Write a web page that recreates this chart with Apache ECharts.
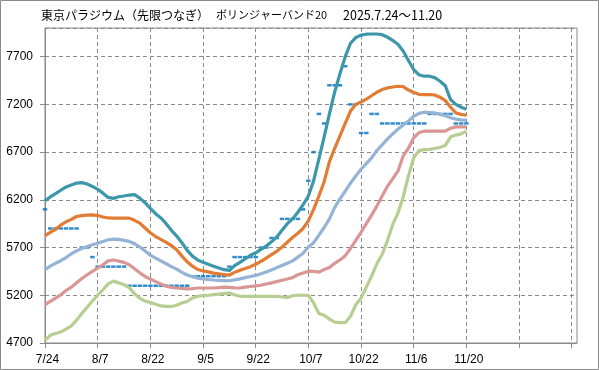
<!DOCTYPE html>
<html><head><meta charset="utf-8">
<script src="https://cdn.jsdelivr.net/npm/echarts@6/dist/echarts.min.js"></script>
<style>html,body{margin:0;padding:0;background:#fff}#c{width:599px;height:370px}</style>
</head><body><div id="c"></div>
<script>
const titleMain = '東京パラジウム（先限つなぎ）';
const titleSub = 'ボリンジャーバンド20';
const titlePeriod = '2025.7.24～11.20';
const dates = ['7/24','7/25','7/28','7/29','7/30','7/31','8/1','8/4','8/5','8/6',
 '8/7','8/8','8/12','8/13','8/14','8/15','8/18','8/19','8/20','8/21',
 '8/22','8/25','8/26','8/27','8/28','8/29','9/1','9/2','9/3','9/4',
 '9/5','9/8','9/9','9/10','9/11','9/12','9/16','9/17','9/18','9/19',
 '9/22','9/24','9/25','9/26','9/29','9/30','10/1','10/2','10/3','10/6',
 '10/7','10/8','10/9','10/10','10/14','10/15','10/16','10/17','10/20','10/21',
 '10/22','10/23','10/24','10/27','10/28','10/29','10/30','10/31','11/4','11/5',
 '11/6','11/7','11/10','11/11','11/12','11/13','11/14','11/17','11/18','11/19','11/20'];
const padCount = 21;
const yTicks = {min: 4700, max: 8000, step: 500};
const price = [6100,5900,5900,5900,5900,5900,5900,5700,5700,5600,
 5500,5500,5500,5500,5500,5500,5300,5300,5300,5300,
 5300,5300,5300,5300,5300,5300,5300,5300,5400,5400,
 5400,5400,5400,5400,5400,5500,5600,5600,5600,5600,
 5600,5700,5700,5800,5800,6000,6000,6000,6000,6100,
 6400,6700,7100,7000,7400,7400,7400,7600,7200,7200,
 6900,6900,7100,7100,7000,7000,7000,7000,7000,7000,
 7000,7000,7000,7100,7100,7100,7100,7100,7000,7000,7000];
const upper2 = [6190,6230,6265,6300,6335,6355,6375,6380,6365,6340,
 6310,6270,6225,6215,6232,6240,6250,6255,6218,6170,
 6110,6055,6010,5950,5880,5820,5750,5670,5610,5570,
 5545,5525,5505,5485,5468,5460,5510,5545,5580,5620,
 5645,5680,5715,5760,5810,5880,5950,6000,6070,6148,
 6240,6400,6630,6860,7100,7330,7520,7700,7840,7900,
 7925,7935,7937,7937,7930,7905,7870,7830,7760,7660,
 7565,7510,7495,7495,7480,7442,7395,7250,7200,7170,7150];
const upper1 = [5826,5860,5890,5935,5970,5995,6025,6035,6040,6043,
 6035,6020,6010,6008,6008,6008,6008,5985,5956,5905,
 5855,5815,5785,5755,5720,5677,5610,5550,5505,5470,
 5455,5445,5432,5425,5418,5412,5440,5462,5480,5500,
 5525,5555,5590,5625,5660,5705,5755,5805,5850,5900,
 5980,6100,6240,6390,6600,6740,6870,7000,7130,7200,
 7225,7255,7290,7327,7355,7372,7382,7390,7385,7350,
 7325,7305,7302,7302,7298,7275,7240,7170,7110,7095,7086];
const middle = [5467,5505,5535,5562,5595,5635,5665,5690,5710,5730,
 5745,5764,5782,5789,5785,5775,5764,5740,5705,5665,
 5620,5590,5560,5530,5500,5474,5440,5412,5395,5380,
 5372,5365,5360,5357,5354,5352,5362,5372,5385,5397,
 5408,5425,5443,5465,5490,5512,5535,5560,5600,5640,
 5705,5750,5830,5910,6000,6120,6210,6290,6375,6450,
 6520,6580,6640,6716,6775,6835,6890,6940,6985,7025,
 7075,7105,7118,7115,7110,7095,7080,7060,7045,7038,7034];
const lower1 = [5101,5135,5170,5205,5250,5285,5330,5375,5415,5450,
 5485,5520,5560,5570,5558,5545,5520,5478,5435,5397,
 5370,5343,5318,5295,5283,5276,5272,5268,5270,5276,
 5276,5276,5276,5280,5285,5282,5278,5276,5285,5292,
 5298,5305,5318,5330,5343,5357,5370,5385,5415,5433,
 5452,5450,5443,5470,5490,5535,5570,5615,5690,5775,
 5860,5950,6040,6134,6240,6340,6420,6500,6660,6740,
 6850,6905,6919,6919,6919,6919,6919,6950,6964,6964,6964];
const lower2 = [4727,4780,4800,4815,4845,4880,4940,5010,5075,5140,
 5200,5258,5320,5348,5330,5310,5280,5215,5170,5138,
 5125,5105,5088,5083,5083,5095,5120,5135,5172,5190,
 5197,5200,5206,5212,5218,5223,5205,5190,5188,5188,
 5188,5188,5188,5188,5190,5182,5177,5195,5202,5200,
 5198,5120,5010,4990,4950,4918,4913,4915,4980,5100,
 5170,5285,5400,5530,5627,5770,5940,6060,6230,6450,
 6640,6715,6726,6728,6738,6750,6770,6860,6878,6891,6919];

const categories = dates.slice();
for (let k = 0; k < padCount; k++) categories.push('_' + k);

const chart = echarts.init(document.getElementById('c'), null, {renderer: 'canvas'});
const gridColor = '#8a8a8a';
const numFont = 'Liberation Sans, Arial, sans-serif';
function band(name, data, color) {
  return {name, type: 'line', data, showSymbol: false, symbol: 'none', z: 3,
    lineStyle: {color, width: 3.2, join: 'round'}, itemStyle: {color}, animation: false};
}
chart.setOption({
  animation: false,
  backgroundColor: '#fff',
  grid: {left: 45, right: 22, top: 28, bottom: 27, show: true, borderColor: gridColor, borderWidth: 1},
  graphic: [
    {type: 'rect', shape: {x: 0.5, y: 0.5, width: 598, height: 369}, style: {fill: null, stroke: '#8a8a8a', lineWidth: 1}, z: -1},
    {type: 'text', left: 41, top: 9, style: {text: titleMain, fill: '#000', font: '12px "Noto Sans CJK JP"'}},
    {type: 'text', left: 216, top: 9, style: {text: titleSub, fill: '#000', font: '11px "Noto Sans CJK JP"'}},
    {type: 'text', left: 343, top: 9, style: {text: titlePeriod, fill: '#000', font: '12.5px "Noto Sans CJK JP"'}}
  ],
  xAxis: {
    type: 'category', data: categories, boundaryGap: false,
    axisLine: {lineStyle: {color: gridColor, width: 1}},
    axisTick: {show: true, length: 5, interval: (i) => i % 10 === 0, lineStyle: {color: gridColor}},
    splitLine: {show: true, interval: (i) => i % 10 === 0, lineStyle: {color: gridColor, type: [4, 3], width: 1}},
    axisLabel: {interval: (i) => i % 10 === 0, margin: 11, color: '#000', fontSize: 12, fontFamily: numFont,
      padding: [0, 0, 0, 5],
      formatter: (v) => (v.charAt(0) === '_' ? '' : v)}
  },
  yAxis: {
    type: 'value', min: yTicks.min, max: yTicks.max, interval: yTicks.step,
    axisLine: {show: true, lineStyle: {color: gridColor, width: 1}},
    axisTick: {show: true, length: 5, lineStyle: {color: gridColor}},
    splitLine: {show: true, lineStyle: {color: gridColor, type: [4, 3], width: 1}},
    axisLabel: {margin: 12, color: '#000', fontSize: 12, fontFamily: numFont, showMaxLabel: false,
      formatter: (v) => (v === yTicks.max ? '' : String(v))}
  },
  series: [
    {name: '終値', type: 'scatter', data: price, symbol: 'rect', symbolSize: [4.5, 2.5], z: 2,
      itemStyle: {color: '#0070C0'}, animation: false},
    band('-2σ', lower2, '#B7CE92'),
    band('-1σ', lower1, '#D99694'),
    band('20日移動平均', middle, '#95B3D7'),
    band('+1σ', upper1, '#E27B34'),
    band('+2σ', upper2, '#3C97AB')
  ]
});
</script></body></html>
